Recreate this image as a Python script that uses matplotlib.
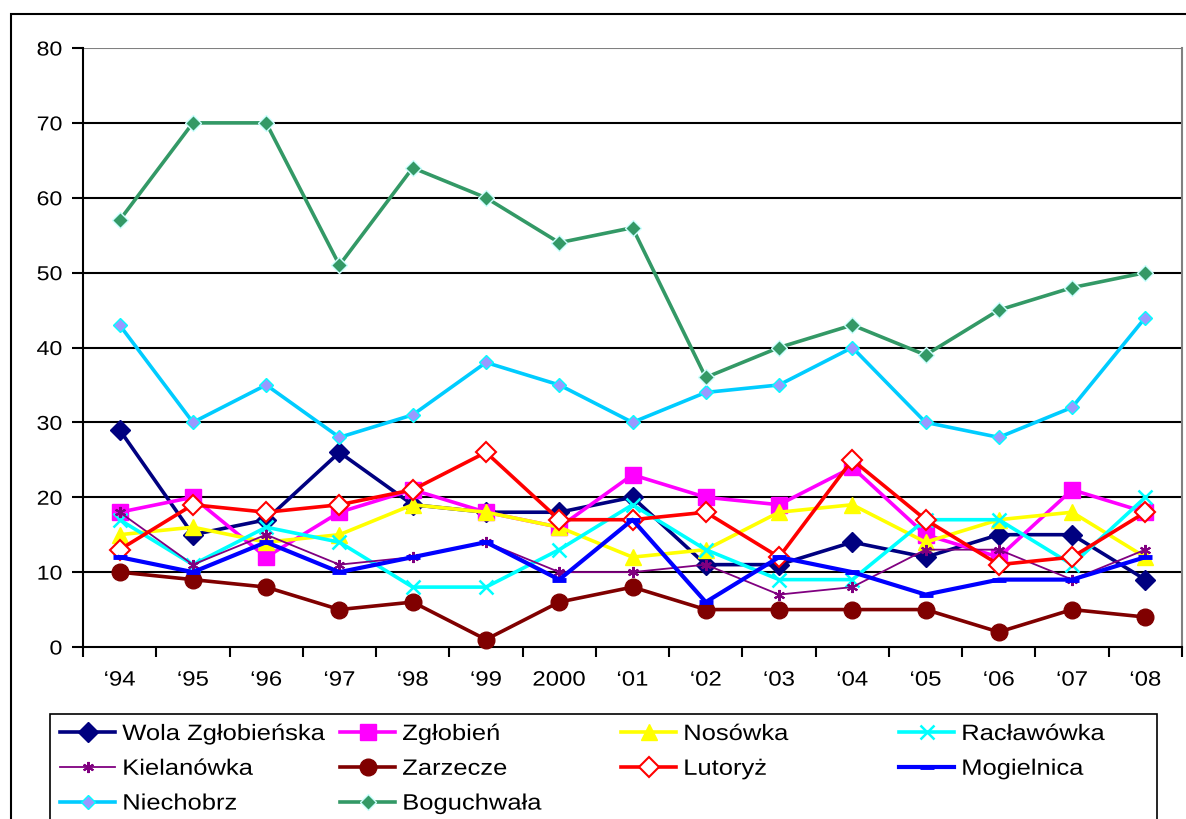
import matplotlib
matplotlib.use("Agg")
import matplotlib.pyplot as plt
import matplotlib.patheffects as pe
from matplotlib.patches import Rectangle
from matplotlib.transforms import Affine2D

plt.rcParams['font.family'] = ['Liberation Sans', 'DejaVu Sans']

years = ["\u201894", "\u201895", "\u201896", "\u201897", "\u201898", "\u201899", "2000",
         "\u201801", "\u201802", "\u201803", "\u201804", "\u201805", "\u201806", "\u201807", "\u201808"]

wola = [29, 15, 17, 26, 19, 18, 18, 20, 11, 11, 14, 12, 15, 15, 9]
zglobien = [18, 20, 12, 18, 21, 18, 16, 23, 20, 19, 24, 15, 12, 21, 18]
nosowka = [15, 16, 14, 15, 19, 18, 16, 12, 13, 18, 19, 14, 17, 18, 12]
raclawowka = [17, 11, 16, 14, 8, 8, 13, 19, 13, 9, 9, 17, 17, 11, 20]
kielanowka = [18, 11, 15, 11, 12, 14, 10, 10, 11, 7, 8, 13, 13, 9, 13]
zarzecze = [10, 9, 8, 5, 6, 1, 6, 8, 5, 5, 5, 5, 2, 5, 4]
lutoryz = [13, 19, 18, 19, 21, 26, 17, 17, 18, 12, 25, 17, 11, 12, 18]
mogielnica = [12, 10, 14, 10, 12, 14, 9, 17, 6, 12, 10, 7, 9, 9, 12]
niechobrz = [43, 30, 35, 28, 31, 38, 35, 30, 34, 35, 40, 30, 28, 32, 44]
boguchwala = [57, 70, 70, 51, 64, 60, 54, 56, 36, 40, 43, 39, 45, 48, 50]

series_names = ["Wola Zgłobieńska", "Zgłobień", "Nosówka", "Racławówka", "Kielanówka",
                "Zarzecze", "Lutoryż", "Mogielnica", "Niechobrz", "Boguchwała"]
series_vals = [wola, zglobien, nosowka, raclawowka, kielanowka,
               zarzecze, lutoryz, mogielnica, niechobrz, boguchwala]

styles = [
    dict(color="#000080", lw=2.6, marker="D", ms=10, mfc="#000080", mec="#000080"),
    dict(color="#FF00FF", lw=2.6, marker="s", ms=11, mfc="#FF00FF", mec="#FF00FF"),
    dict(color="#FFFF00", lw=2.6, marker="^", ms=12, mfc="#FFFF00", mec="#FFFF00"),
    dict(color="#00FFFF", lw=2.6, marker="x", ms=10, mew=1.8, mec="#00FFFF"),
    dict(color="#800080", lw=1.3, marker=(6, 2, 0), ms=8, mew=1.5, mec="#800080"),
    dict(color="#800000", lw=2.6, marker="o", ms=12, mfc="#800000", mec="#800000"),
    dict(color="#FF0000", lw=2.6, marker="D", ms=10, mfc="white", mec="#FF0000", mew=1.5),
    dict(color="#0000FF", lw=3.0, marker="_", ms=10, mew=3.5, mec="#0000FF"),
    dict(color="#00CCFF", lw=2.6, marker="D", ms=7, mfc="#9999FF", mec="#00FFFF", mew=1.0),
    dict(color="#339966", lw=2.6, marker="D", ms=8.5, mfc="#339966", mec="#CCFFFF", mew=1.0),
]


class Stretch(pe.AbstractPathEffect):
    """Horizontally widen text glyphs (reference text is a wide Arial)."""

    def __init__(self, sx=1.15, anchor="left"):
        super().__init__()
        self.sx = sx
        self.anchor = anchor

    def draw_path(self, renderer, gc, tpath, affine, rgbFace=None):
        ext = tpath.get_extents()
        if self.anchor == "left":
            cx = 0.0
        elif self.anchor == "right":
            cx = ext.x1
        else:
            cx = 0.5 * (ext.x0 + ext.x1)
        tr = Affine2D().translate(-cx, 0).scale(self.sx, 1).translate(cx, 0) + affine
        renderer.draw_path(gc, tpath, tr, rgbFace)


W, H = 1186, 819
fig = plt.figure(figsize=(W / 100, H / 100), dpi=100)

# outer frame
fig.patches.append(Rectangle((11 / W, -0.05), 1.2, 1 - 14 / H + 0.05, transform=fig.transFigure,
                             fill=False, edgecolor="black", lw=1.5, zorder=0))

ax = fig.add_axes([83 / W, 1 - 647 / H, (1182 - 83) / W, (647 - 48) / H])
x = list(range(len(years)))
handles = []
for name, vals, st in zip(series_names, series_vals, styles):
    (ln,) = ax.plot(x, vals, label=name, clip_on=False, zorder=3, **st)
    handles.append(ln)

ax.set_xlim(-0.5, len(years) - 0.5)
ax.set_ylim(0, 80)
ax.set_yticks(range(0, 81, 10))
ax.set_xticks(x)
ax.set_xticklabels(years)
ax.set_xticks([i - 0.5 for i in range(len(years) + 1)], minor=True)
ax.tick_params(axis="x", which="major", length=0, pad=17, labelsize=15)
ax.tick_params(axis="x", which="minor", length=7, width=1.5, direction="out")
ax.tick_params(axis="y", length=8, width=1.5, direction="out", labelsize=14.5, pad=7)
for lab in ax.get_xticklabels():
    lab.set_path_effects([Stretch(1.15, "center")])
for lab in ax.get_yticklabels():
    lab.set_path_effects([Stretch(1.15, "right")])
for yv in range(10, 80, 10):
    ax.axhline(yv, color="black", lw=1.5, zorder=1)
ax.axhline(80, color="#808080", lw=1.5, zorder=1)
ax.spines["left"].set_linewidth(1.5)
ax.spines["bottom"].set_linewidth(1.5)
ax.spines["top"].set_visible(False)
ax.spines["right"].set_color("#808080")
ax.spines["right"].set_linewidth(1.5)

# legend frame
fig.patches.append(Rectangle((50 / W, -0.05), (1157 - 50) / W, 1 - 714 / H + 0.05,
                             transform=fig.transFigure, fill=False, edgecolor="black", lw=1.2, zorder=0))

cols = [[0, 4, 8], [1, 5, 9], [2, 6], [3, 7]]
col_x = [60, 340, 621, 899]
for cx, idxs in zip(col_x, cols):
    leg = fig.legend([handles[i] for i in idxs], [series_names[i] for i in idxs],
                     loc="upper left", bbox_to_anchor=(cx / W, 1 - 724 / H),
                     frameon=False, fontsize=16, handlelength=2.48, handletextpad=0.32,
                     labelspacing=0.62, borderpad=0, borderaxespad=0, numpoints=1)
    for t in leg.get_texts():
        t.set_path_effects([Stretch(1.15, "left")])

fig.savefig("out.png", dpi=100)
